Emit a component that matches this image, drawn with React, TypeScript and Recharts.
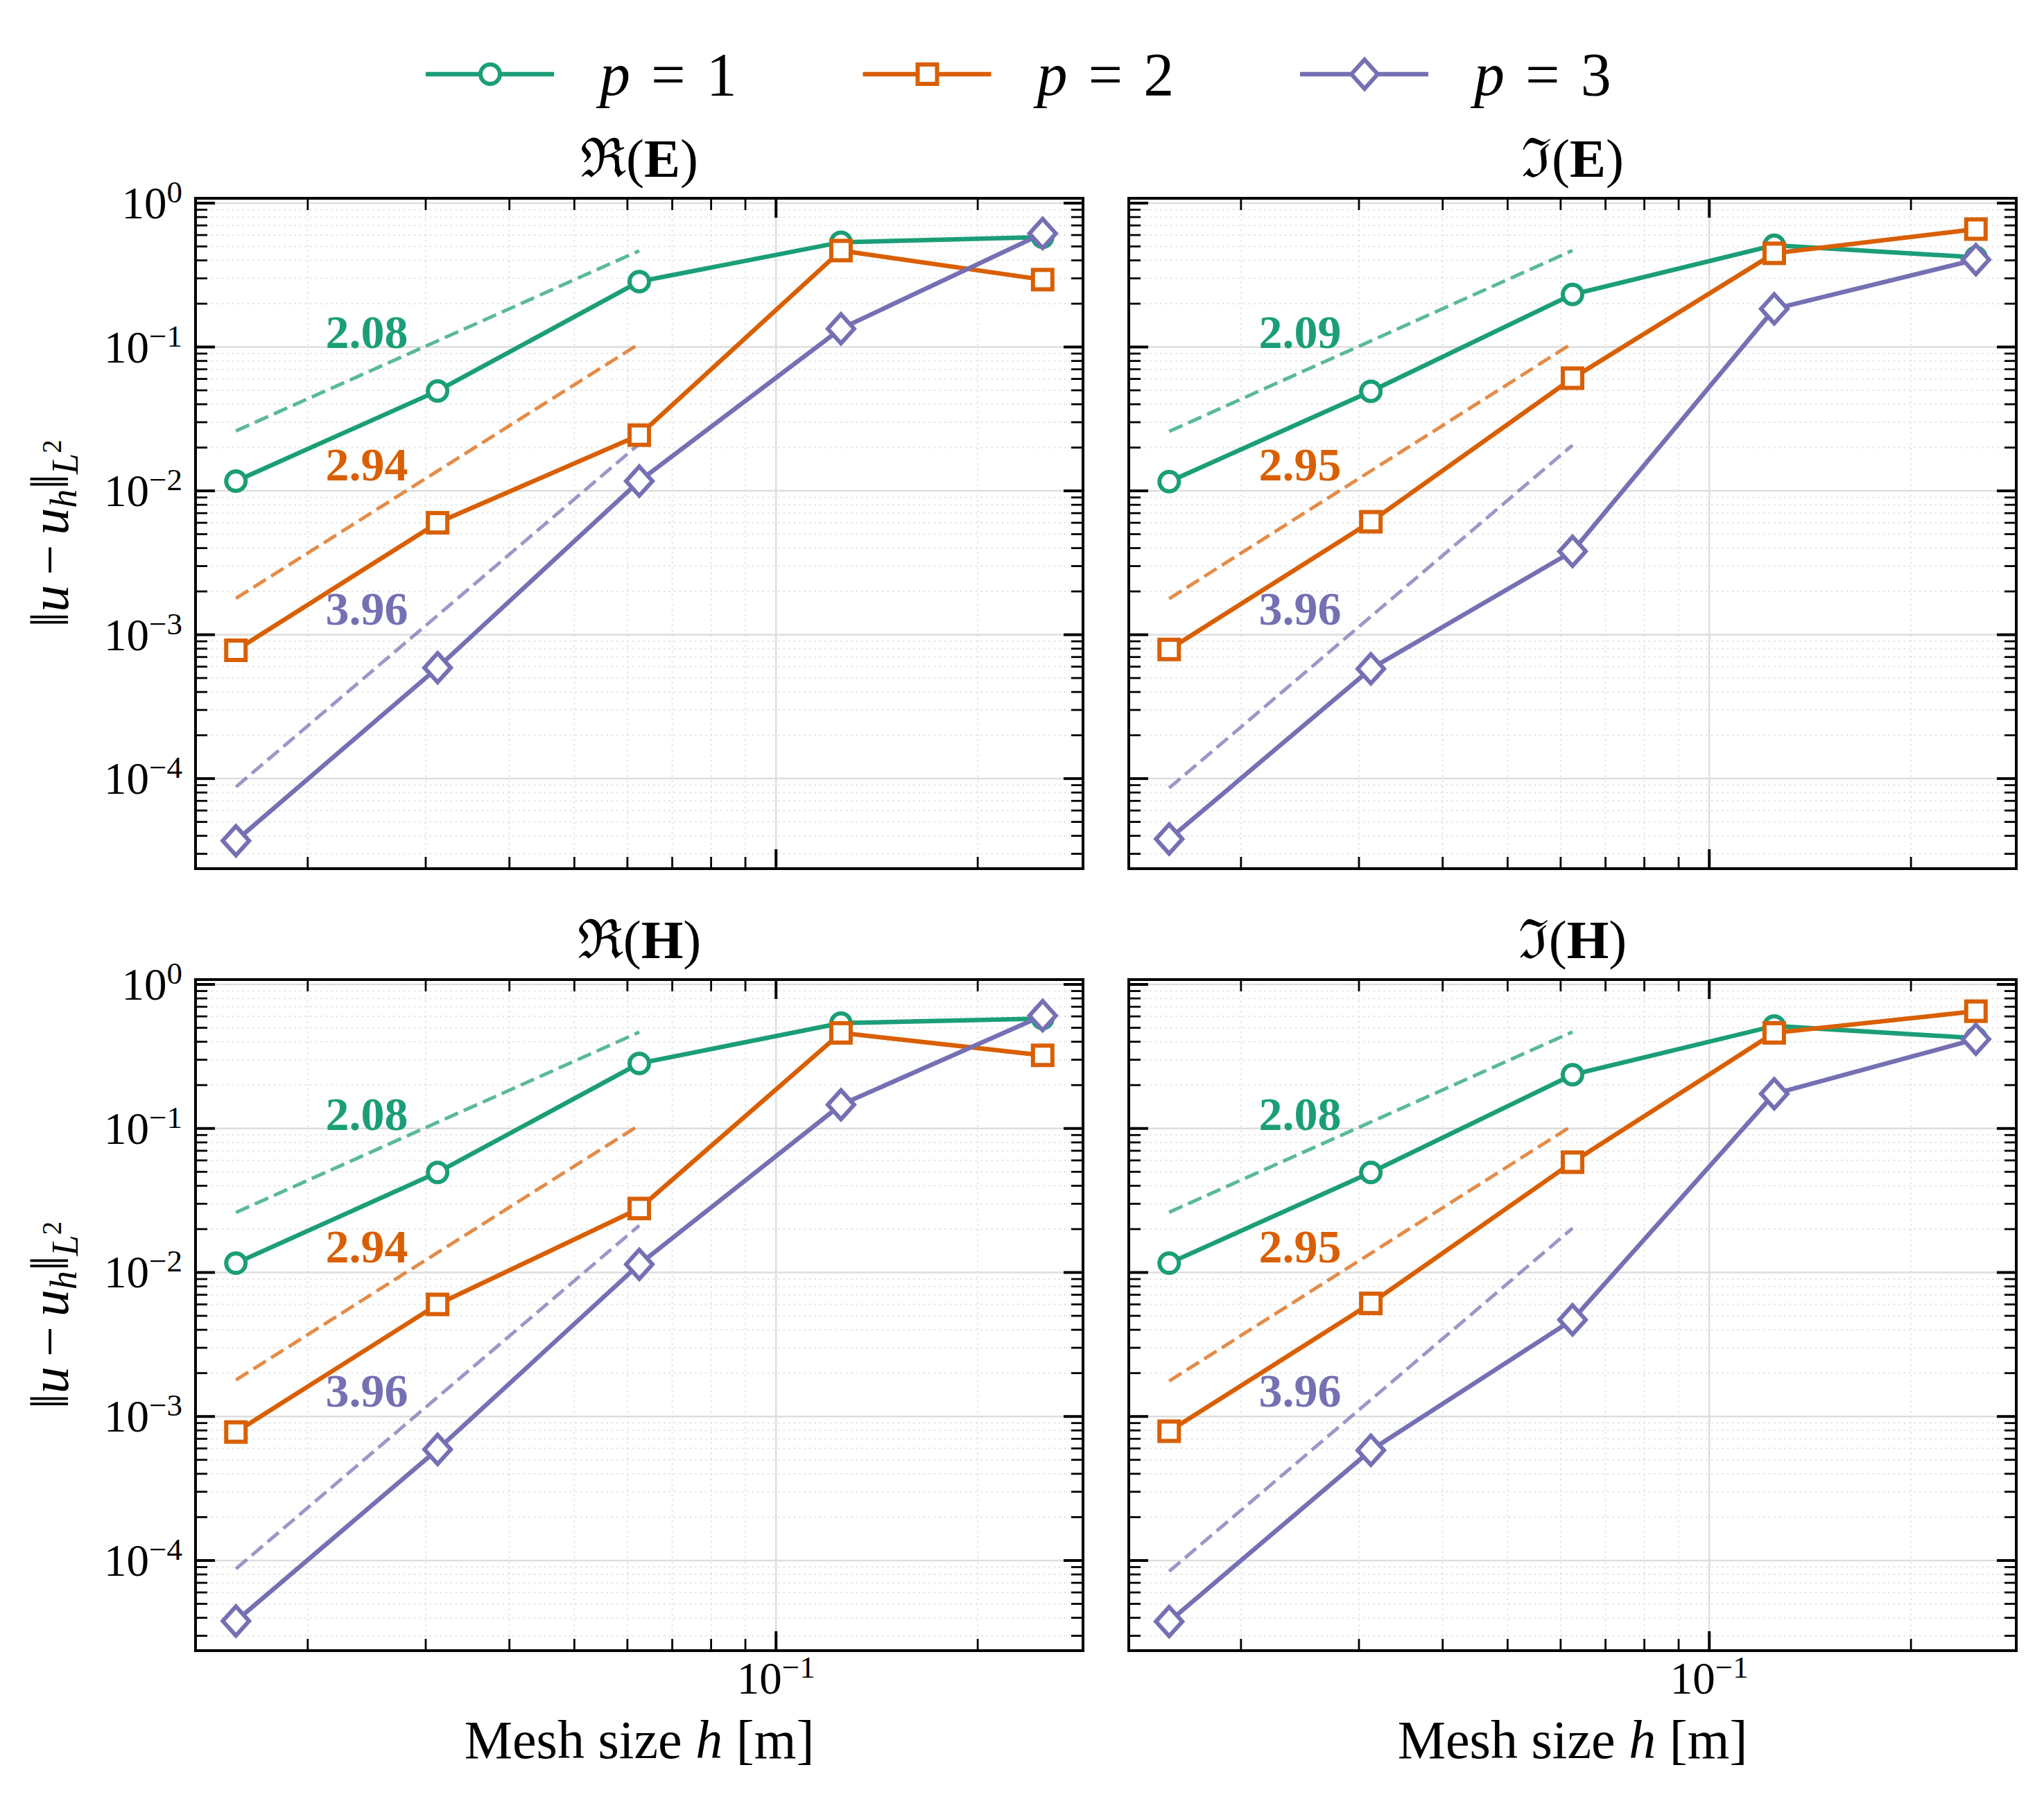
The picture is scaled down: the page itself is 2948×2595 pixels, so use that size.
import {
  CartesianGrid,
  Line,
  LineChart,
  ReferenceDot,
  XAxis,
  YAxis,
} from "recharts";

// mesh sizes h = 1/64 ... 1/4
const meshSizes = [1 / 64, 1 / 32, 1 / 16, 1 / 8, 1 / 4];
// reference slope lines run from the finest to the third mesh
const guideSpan = [1 / 64, 1 / 16];

const reEp1 = [0.0117, 0.0495, 0.285, 0.535, 0.58];
const reEp2 = [7.8e-4, 6.0e-3, 0.0244, 0.468, 0.294];
const reEp3 = [3.7e-5, 5.9e-4, 0.0117, 0.134, 0.615];
const reEGuideStart = [0.0261, 1.79e-3, 8.75e-5];
const reEGuideEnd = [0.4667, 0.1054, 0.0212];
const reERates = ["2.08", "2.94", "3.96"];

const imEp1 = [0.0116, 0.0492, 0.232, 0.51, 0.42];
const imEp2 = [7.9e-4, 6.1e-3, 0.0607, 0.448, 0.66];
const imEp3 = [3.8e-5, 5.8e-4, 3.8e-3, 0.184, 0.405];
const imEGuideStart = [0.0259, 1.78e-3, 8.6e-5];
const imEGuideEnd = [0.469, 0.1063, 0.0208];
const imERates = ["2.09", "2.95", "3.96"];

const reHp1 = [0.0116, 0.0495, 0.283, 0.539, 0.579];
const reHp2 = [7.8e-4, 6.0e-3, 0.0278, 0.461, 0.322];
const reHp3 = [3.8e-5, 5.9e-4, 0.0114, 0.146, 0.607];
const reHGuideStart = [0.0261, 1.79e-3, 8.75e-5];
const reHGuideEnd = [0.4667, 0.1054, 0.0212];
const reHRates = ["2.08", "2.94", "3.96"];

const imHp1 = [0.0116, 0.0495, 0.236, 0.515, 0.424];
const imHp2 = [7.9e-4, 6.1e-3, 0.0583, 0.461, 0.652];
const imHp3 = [3.77e-5, 5.83e-4, 4.69e-3, 0.174, 0.417];
const imHGuideStart = [0.0262, 1.76e-3, 8.4e-5];
const imHGuideEnd = [0.4685, 0.105, 0.0203];
const imHRates = ["2.08", "2.95", "3.96"];

// where the rate numbers sit (text baseline)
const rateLabelH = 0.0245;
const rateLabelErr = [0.098, 0.0118, 0.00117];

const orders = ["1", "2", "3"];
const colors = ["#1b9e77", "#d95f02", "#7570b3"];
type MarkerKind = "circle" | "square" | "diamond";
const markers: MarkerKind[] = ["circle", "square", "diamond"];

const hDomain: [number, number] = [0.0136, 0.2872];
const errDomain: [number, number] = [2.366e-5, 1.081];
const hDecades = [0.01, 0.1];
const errDecades = [1e-5, 1e-4, 1e-3, 1e-2, 1e-1, 1];

const FONT = '"Liberation Serif", "DejaVu Serif", serif';
const LINE_W = 6.5;
const frame = { stroke: "#000", strokeWidth: 4, strokeLinecap: "square" as const };

function logTicks(decades: number[], domain: [number, number]) {
  const out: number[] = [];
  for (const d of decades) {
    for (let k = 1; k <= 9; k++) {
      const v = k * d;
      if (v >= domain[0] && v <= domain[1]) out.push(v);
    }
  }
  return out;
}

function isDecade(v: number) {
  const l = Math.log10(v);
  return Math.abs(l - Math.round(l)) < 1e-6;
}

const hTicks = logTicks(hDecades, hDomain);
const errTicks = logTicks(errDecades, errDomain);
const hMajor = hTicks.filter(isDecade);
const hMinor = hTicks.filter((v) => !isDecade(v));
const errMajor = errTicks.filter(isDecade);
const errMinor = errTicks.filter((v) => !isDecade(v));

function toPoints(values: number[]) {
  return values.map((e, i) => ({ h: meshSizes[i], e }));
}

function Marker({
  kind,
  cx,
  cy,
  color,
}: {
  kind: MarkerKind;
  cx: number;
  cy: number;
  color: string;
}) {
  const style = { fill: "#fff", stroke: color, strokeWidth: 6 };
  if (kind === "circle") return <circle cx={cx} cy={cy} r={14} {...style} />;
  if (kind === "square")
    return <rect x={cx - 14} y={cy - 14} width={28} height={28} {...style} />;
  return (
    <polygon
      points={`${cx},${cy - 21} ${cx + 19},${cy} ${cx},${cy + 21} ${cx - 19},${cy}`}
      {...style}
    />
  );
}

function exponentText(v: number) {
  const exp = Math.round(Math.log10(v));
  return exp === 0 ? "0" : `\u2212${-exp}`;
}

type Side = "left" | "right" | "top" | "bottom";

// inward ticks on every side, labels only on decades
function makeTick(side: Side, labelled: boolean) {
  return (props: any) => {
    const { x, y, payload } = props;
    const v = payload.value as number;
    const major = isDecade(v);
    const len = major ? 28 : 17;
    let x2 = x;
    let y2 = y;
    if (side === "left") x2 = x + len;
    if (side === "right") x2 = x - len;
    if (side === "top") y2 = y + len;
    if (side === "bottom") y2 = y - len;
    return (
      <g>
        <line
          x1={x}
          y1={y}
          x2={x2}
          y2={y2}
          stroke="#000"
          strokeWidth={major ? 4 : 2.8}
        />
        {labelled && major && side === "left" && (
          <text x={x - 19} y={y + 22} textAnchor="end" fontFamily={FONT} fontSize={65} fill="#000">
            10
            <tspan fontSize={45} dy={-23}>
              {exponentText(v)}
            </tspan>
          </text>
        )}
        {labelled && major && side === "bottom" && (
          <text x={x} y={y + 62} textAnchor="middle" fontFamily={FONT} fontSize={65} fill="#000">
            10
            <tspan fontSize={45} dy={-23}>
              {exponentText(v)}
            </tspan>
          </text>
        )}
      </g>
    );
  };
}

type Panel = {
  part: string;
  field: string;
  errors: number[][];
  guideStart: number[];
  guideEnd: number[];
  rates: string[];
};

const panels: Panel[] = [
  { part: "\u211C", field: "E", errors: [reEp1, reEp2, reEp3], guideStart: reEGuideStart, guideEnd: reEGuideEnd, rates: reERates },
  { part: "\u2111", field: "E", errors: [imEp1, imEp2, imEp3], guideStart: imEGuideStart, guideEnd: imEGuideEnd, rates: imERates },
  { part: "\u211C", field: "H", errors: [reHp1, reHp2, reHp3], guideStart: reHGuideStart, guideEnd: reHGuideEnd, rates: reHRates },
  { part: "\u2111", field: "H", errors: [imHp1, imHp2, imHp3], guideStart: imHGuideStart, guideEnd: imHGuideEnd, rates: imHRates },
];

type Layout = {
  left: number;
  top: number;
  width: number;
  height: number;
  leftW: number;
  rightW: number;
  topH: number;
  bottomH: number;
  xLabels: boolean;
  yLabels: boolean;
};

const layouts: Layout[] = [
  { left: 0, top: 0, width: 1600, height: 1300, leftW: 282, rightW: 38, topH: 286, bottomH: 47, xLabels: false, yLabels: true },
  { left: 1600, top: 0, width: 1348, height: 1300, leftW: 28, rightW: 40, topH: 286, bottomH: 47, xLabels: false, yLabels: false },
  { left: 0, top: 1300, width: 1600, height: 1295, leftW: 282, rightW: 38, topH: 113, bottomH: 214, xLabels: true, yLabels: true },
  { left: 1600, top: 1300, width: 1348, height: 1295, leftW: 28, rightW: 40, topH: 113, bottomH: 214, xLabels: true, yLabels: false },
];

function ConvergencePanel({ panel, layout }: { panel: Panel; layout: Layout }) {
  return (
    <div style={{ position: "absolute", left: layout.left, top: layout.top }}>
      <LineChart
        width={layout.width}
        height={layout.height}
        margin={{ top: 0, right: 0, bottom: 0, left: 0 }}
      >
        <CartesianGrid
          horizontalValues={errMinor}
          verticalValues={hMinor}
          stroke="#e3e3e3"
          strokeWidth={2}
          strokeDasharray="2.5 5"
        />
        <CartesianGrid
          horizontalValues={errMajor}
          verticalValues={hMajor}
          stroke="#dddddd"
          strokeWidth={2.5}
        />
        <XAxis
          type="number"
          dataKey="h"
          scale="log"
          domain={hDomain}
          allowDataOverflow
          ticks={hTicks}
          interval={0}
          tickSize={0}
          tickMargin={0}
          tickLine={false}
          axisLine={frame}
          height={layout.bottomH}
          tick={makeTick("bottom", layout.xLabels)}
          label={
            layout.xLabels
              ? {
                  content: (p: any) => {
                    const vb = p.viewBox;
                    return (
                      <text
                        x={vb.x + vb.width / 2}
                        y={vb.y + 155}
                        textAnchor="middle"
                        fontFamily={FONT}
                        fontSize={78}
                        fill="#000"
                      >
                        Mesh size <tspan fontStyle="italic">h</tspan> [m]
                      </text>
                    );
                  },
                }
              : undefined
          }
        />
        <XAxis
          xAxisId="top"
          orientation="top"
          type="number"
          dataKey="h"
          scale="log"
          domain={hDomain}
          allowDataOverflow
          ticks={hTicks}
          interval={0}
          tickSize={0}
          tickMargin={0}
          tickLine={false}
          axisLine={frame}
          height={layout.topH}
          tick={makeTick("top", false)}
          label={{
            content: (p: any) => {
              const vb = p.viewBox;
              return (
                <text
                  x={vb.x + vb.width / 2}
                  y={vb.y + vb.height - 31}
                  textAnchor="middle"
                  fontFamily={FONT}
                  fontSize={78}
                  fill="#000"
                >
                  {panel.part}(<tspan fontWeight="bold">{panel.field}</tspan>)
                </text>
              );
            },
          }}
        />
        <YAxis
          type="number"
          scale="log"
          domain={errDomain}
          allowDataOverflow
          ticks={errTicks}
          interval={0}
          tickSize={0}
          tickMargin={0}
          tickLine={false}
          axisLine={frame}
          width={layout.leftW}
          tick={makeTick("left", layout.yLabels)}
          label={
            layout.yLabels
              ? {
                  content: (p: any) => {
                    const vb = p.viewBox;
                    const cx = vb.x + 98;
                    const cy = vb.y + vb.height / 2;
                    return (
                      <text
                        x={cx}
                        y={cy}
                        transform={`rotate(-90 ${cx} ${cy})`}
                        textAnchor="middle"
                        fontFamily={FONT}
                        fontSize={78}
                        fill="#000"
                      >
                        {"\u2016"}
                        <tspan fontStyle="italic">u</tspan>
                        <tspan dx={14}>{"\u2212"}</tspan>
                        <tspan dx={14} fontStyle="italic">u</tspan>
                        <tspan fontStyle="italic" fontSize={54} dy={12}>h</tspan>
                        <tspan dy={-12}>{"\u2016"}</tspan>
                        <tspan fontStyle="italic" fontSize={54} dy={14}>L</tspan>
                        <tspan fontSize={39} dy={-24}>2</tspan>
                      </text>
                    );
                  },
                }
              : undefined
          }
        />
        <YAxis
          yAxisId="right"
          orientation="right"
          type="number"
          scale="log"
          domain={errDomain}
          allowDataOverflow
          ticks={errTicks}
          interval={0}
          tickSize={0}
          tickMargin={0}
          tickLine={false}
          axisLine={frame}
          width={layout.rightW}
          tick={makeTick("right", false)}
        />

        {panel.guideStart.map((start, i) => (
          <Line
            key={`guide-${i}`}
            data={[
              { h: guideSpan[0], e: start },
              { h: guideSpan[1], e: panel.guideEnd[i] },
            ]}
            dataKey="e"
            type="linear"
            stroke={colors[i]}
            strokeOpacity={0.72}
            strokeWidth={5}
            strokeDasharray="21 9"
            dot={false}
            activeDot={false}
            isAnimationActive={false}
          />
        ))}

        {panel.errors.map((values, i) => (
          <Line
            key={`p-${i}`}
            data={toPoints(values)}
            dataKey="e"
            type="linear"
            stroke={colors[i]}
            strokeWidth={LINE_W}
            dot={(p: any) => (
              <Marker
                key={`m-${i}-${p.index}`}
                kind={markers[i]}
                cx={p.cx}
                cy={p.cy}
                color={colors[i]}
              />
            )}
            activeDot={false}
            isAnimationActive={false}
          />
        ))}

        {panel.rates.map((rate, i) => (
          <ReferenceDot
            key={`rate-${i}`}
            x={rateLabelH}
            y={rateLabelErr[i]}
            r={0}
            shape={(p: any) => (
              <text
                x={p.cx}
                y={p.cy}
                textAnchor="middle"
                fontFamily={FONT}
                fontWeight="bold"
                fontSize={68}
                fill={colors[i]}
              >
                {rate}
              </text>
            )}
          />
        ))}
      </LineChart>
    </div>
  );
}

function OrderLegend() {
  return (
    <svg
      width={1900}
      height={120}
      style={{ position: "absolute", left: 560, top: 50 }}
    >
      {orders.map((p, i) => {
        const x0 = 54 + i * 630.5;
        return (
          <g key={p}>
            <line x1={x0} y1={57} x2={x0 + 185} y2={57} stroke={colors[i]} strokeWidth={LINE_W} />
            <Marker kind={markers[i]} cx={x0 + 93} cy={57} color={colors[i]} />
            <text x={x0 + 251} y={87} fontFamily={FONT} fontSize={88} fill="#000">
              <tspan fontStyle="italic">p</tspan>
              <tspan dx={30}>=</tspan>
              <tspan dx={30}>{p}</tspan>
            </text>
          </g>
        );
      })}
    </svg>
  );
}

export default function App() {
  return (
    <div
      style={{
        position: "absolute",
        left: 0,
        top: 0,
        width: 2948,
        height: 2595,
        background: "#fff",
        overflow: "hidden",
      }}
    >
      {panels.map((panel, i) => (
        <ConvergencePanel key={i} panel={panel} layout={layouts[i]} />
      ))}
      <OrderLegend />
    </div>
  );
}
